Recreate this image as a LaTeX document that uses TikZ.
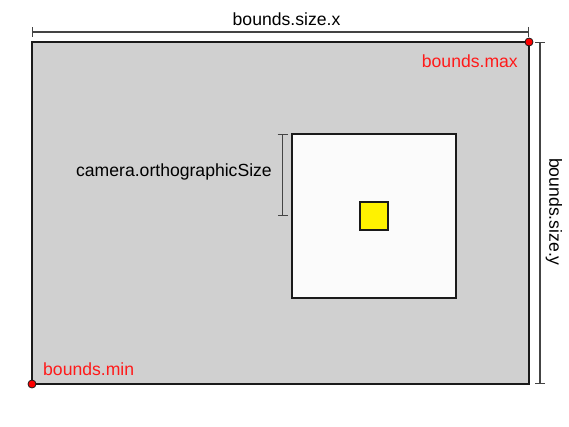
\documentclass[tikz,border=0pt]{standalone}
\usepackage{fontspec}
\setmainfont{Liberation Sans}
\usetikzlibrary{arrows.meta}
\definecolor{boundsfill}{HTML}{D0D0D0}
\definecolor{camfill}{HTML}{FBFBFB}
\definecolor{edge}{HTML}{1A1A1A}
\definecolor{dimgray}{HTML}{444444}
\definecolor{lblred}{HTML}{FF1A1A}
\tikzset{
  box/.style={draw=edge, line width=2pt, inner sep=0pt, outer sep=0pt},
  dimline/.style={draw=dimgray, line width=1.4pt, {Bar[width=10pt,line width=1.4pt]}-{Bar[width=10pt,line width=1.4pt]}},
  lbl/.style={font=\fontsize{17.6}{20}\selectfont, inner sep=0pt},
  redlbl/.style={lbl, text=lblred},
  cornerdot/.style={circle, fill=red, draw=edge, line width=0.8pt, minimum size=8pt, inner sep=0pt}
}
\begin{document}
\begin{tikzpicture}[x=1pt,y=-1pt]
\useasboundingbox (0,0) rectangle (569,427);
\node[box, fill=boundsfill, minimum width=497pt, minimum height=342pt, anchor=north west] (bounds) at (32,42) {};
\node[box, fill=camfill, minimum width=164pt, minimum height=164pt, anchor=north west] (cam) at (292,134) {};
\node[box, fill=yellow, minimum width=28pt, minimum height=28pt] (obj) at (cam.center) {};
\node[cornerdot] (bmin) at (bounds.south west) {};
\node[cornerdot] (bmax) at (bounds.north east) {};
% dimension lines
\coordinate (dxa) at (32,32);
\coordinate (dxb) at (529,32);
\draw[dimline] (dxa) -- (dxb);
\coordinate (dya) at (540,42);
\coordinate (dyb) at (540,384);
\draw[dimline] (dya) -- (dyb);
\coordinate (dca) at (282.5,134);
\coordinate (dcb) at (282.5,216.5);
\draw[dimline] (dca) -- (dcb);
% labels
\node[lbl] (lx) at (286.5,19) {bounds.size.x};
\node[lbl, rotate=-90] (ly) at (554,212) {bounds.size.y};
\node[lbl, anchor=east] (lcam) at (272,172) {camera.orthographicSize};
\node[redlbl, anchor=east] (lmax) at (518,61) {bounds.max};
\node[redlbl, anchor=west] (lmin) at (43,369) {bounds.min};
\end{tikzpicture}
\end{document}
